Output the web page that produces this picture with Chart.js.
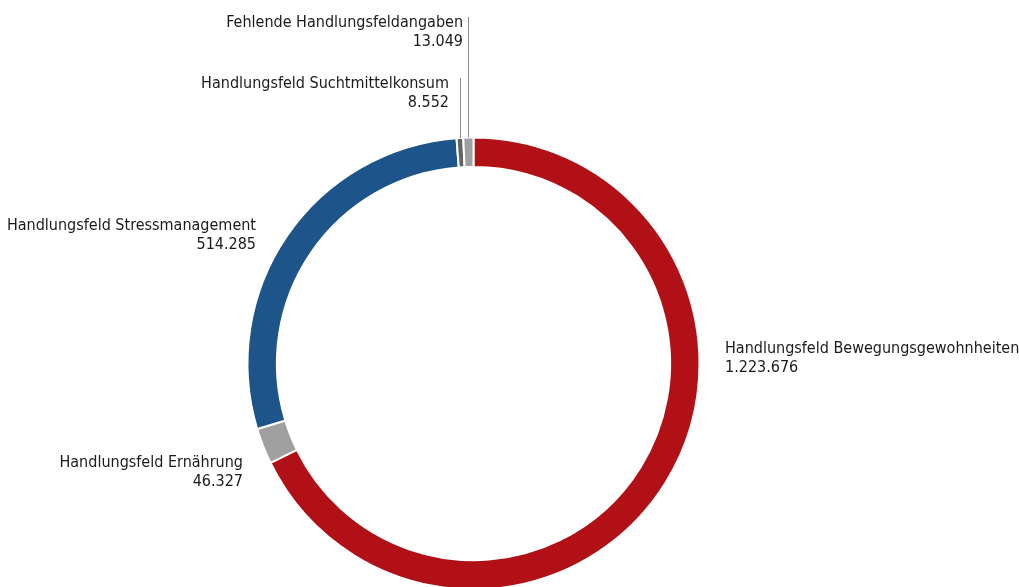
<!DOCTYPE html>
<html>
<head>
<meta charset="utf-8">
<script src="https://cdn.jsdelivr.net/npm/chart.js@4.4.1/dist/chart.umd.min.js"></script>
<style>
html,body{margin:0;padding:0;background:#fff;overflow:hidden;}
#wrap{position:relative;width:1019px;height:600px;}
</style>
</head>
<body>
<div id="wrap"><canvas id="c"></canvas></div>
<script>
const categories = [
  "Handlungsfeld Bewegungsgewohnheiten",
  "Handlungsfeld Ernährung",
  "Handlungsfeld Stressmanagement",
  "Handlungsfeld Suchtmittelkonsum",
  "Fehlende Handlungsfeldangaben"
];
const values = [1223676, 46327, 514285, 8552, 13049];
const valueLabels = ["1.223.676", "46.327", "514.285", "8.552", "13.049"];
const colors = ["#B11116", "#A0A0A0", "#1D548A", "#646464", "#A0A0A0"];

const FONT = '"Liberation Sans Narrow", "DejaVu Sans Condensed", "Roboto Condensed", Arial, sans-serif';

// label placement: [textX, baseline1, align, leader]
const labelPlace = [
  {x: 725, y: 353, align: 'left'},
  {x: 243, y: 467, align: 'right'},
  {x: 256, y: 230, align: 'right'},
  {x: 449, y: 88, align: 'right', leaderTop: 78},
  {x: 463, y: 27, align: 'right', leaderTop: 17}
];

const labelPlugin = {
  id: 'outLabels',
  afterDatasetsDraw(chart) {
    const ctx = chart.ctx;
    const meta = chart.getDatasetMeta(0);
    ctx.save();
    ctx.font = '16px ' + FONT;
    ctx.fillStyle = '#1a1a1a';
    ctx.textBaseline = 'alphabetic';
    meta.data.forEach((arc, i) => {
      const p = labelPlace[i];
      ctx.textAlign = p.align;
      ctx.fillText(categories[i], p.x, p.y);
      ctx.fillText(valueLabels[i], p.x, p.y + 19);
      if (p.leaderTop !== undefined) {
        const mid = (arc.startAngle + arc.endAngle) / 2;
        const lx = Math.round(arc.x + arc.outerRadius * Math.cos(mid)) + 0.5;
        const ly = arc.y + arc.outerRadius * Math.sin(mid);
        ctx.strokeStyle = '#8c8c8c';
        ctx.lineWidth = 1;
        ctx.beginPath();
        ctx.moveTo(lx, p.leaderTop);
        ctx.lineTo(lx, ly);
        ctx.stroke();
      }
    });
    ctx.restore();
  }
};

new Chart(document.getElementById('c'), {
  type: 'doughnut',
  data: {
    labels: categories,
    datasets: [{
      data: values,
      backgroundColor: colors,
      borderColor: '#ffffff',
      borderWidth: 2,
      hoverOffset: 0
    }]
  },
  options: {
    responsive: true,
    maintainAspectRatio: false,
    animation: false,
    cutout: '87%',
    layout: {padding: {left: 246.5, right: 318.5, top: 136.5, bottom: 9.5}},
    plugins: {legend: {display: false}, tooltip: {enabled: false}}
  },
  plugins: [labelPlugin]
});
</script>
</body>
</html>
